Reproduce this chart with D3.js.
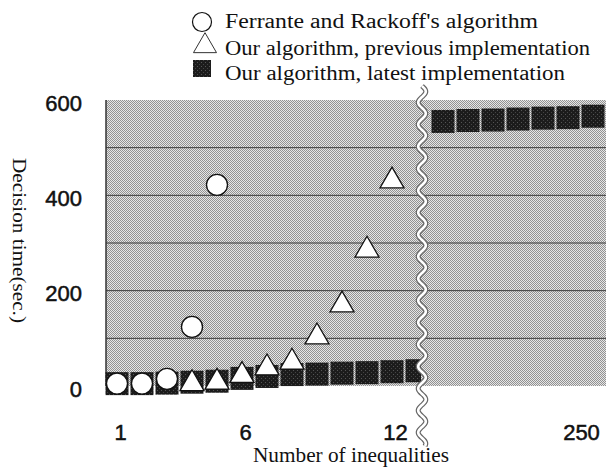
<!DOCTYPE html>
<html>
<head>
<meta charset="utf-8">
<script src="https://cdn.jsdelivr.net/npm/d3@7"></script>
<style>
  body { margin: 0; background: #fff; }
  svg { display: block; }
</style>
</head>
<body>
<div class="canvas"></div>
<script>
// data
const leftN = [1, 2, 3, 4, 5, 6, 7, 8, 9, 10, 11, 12, 13];
const ferrante = [
  { n: 1, t: 5 }, { n: 2, t: 5 }, { n: 3, t: 15 }, { n: 4, t: 124 }, { n: 5, t: 422 }
];
const previous = [
  { n: 4, t: 5 }, { n: 5, t: 8 }, { n: 6, t: 22 }, { n: 7, t: 38 }, { n: 8, t: 50 },
  { n: 9, t: 103 }, { n: 10, t: 170 }, { n: 11, t: 285 }, { n: 12, t: 430 }
];
const latestLeft = [5, 5, 6, 8, 10, 16, 20, 24, 25, 27, 28, 30, 32];
const rightN = [244, 245, 246, 247, 248, 249, 250];
const latestRight = [555, 557, 558, 560, 562, 563, 566];
const yTicks = [0, 200, 400, 600];
const gridVals = [100, 200, 300, 400, 500];
const xTicksLeft = [1, 6, 12];
const xTicksRight = [250];
const legendLabels = [
  "Ferrante and Rackoff's algorithm",
  'Our algorithm, previous implementation',
  'Our algorithm, latest implementation'
];

const width = 611, height = 468;
const plot = { left: 106, right: 606, top: 100, bottom: 386 };
const breakX = 422;
const serif = '"Liberation Serif", "Times New Roman", serif';
const sans = '"Liberation Sans", Arial, sans-serif';

const svg = d3.select('.canvas').append('svg')
  .attr('width', width).attr('height', height);

const defs = svg.append('defs');

//halftone gray for the plot area
const pat = defs.append('pattern').attr('id', 'halftone')
  .attr('width', 2).attr('height', 2).attr('patternUnits', 'userSpaceOnUse');
pat.append('rect').attr('width', 2).attr('height', 2).attr('fill', '#e6e6e6');
pat.append('rect').attr('width', 1).attr('height', 1).attr('fill', '#929292');
pat.append('rect').attr('x', 1).attr('y', 1).attr('width', 1).attr('height', 1).attr('fill', '#929292');

//dark speckled fill for squares
const dpat = defs.append('pattern').attr('id', 'dark')
  .attr('width', 4).attr('height', 4).attr('patternUnits', 'userSpaceOnUse');
dpat.append('rect').attr('width', 4).attr('height', 4).attr('fill', '#1c1c1c');
dpat.append('rect').attr('x', 1).attr('y', 2).attr('width', 1).attr('height', 1).attr('fill', '#555');
dpat.append('rect').attr('x', 3).attr('y', 0).attr('width', 1).attr('height', 1).attr('fill', '#444');

defs.append('clipPath').attr('id', 'leftClip')
  .append('rect').attr('x', 0).attr('y', 0).attr('width', breakX - 1).attr('height', height);

//scales
const y = d3.scaleLinear().domain([0, 600]).range([plot.bottom, plot.top]);
const xL = d3.scaleLinear().domain([1, 12]).range([117, 392]);
const xR = d3.scaleLinear().domain([244, 250]).range([443, 593]);

//background
svg.append('rect')
  .attr('x', plot.left).attr('y', plot.top)
  .attr('width', plot.right - plot.left).attr('height', plot.bottom - plot.top)
  .attr('fill', 'url(#halftone)');

//grid lines
svg.append('g').selectAll('line').data(gridVals).join('line')
  .attr('x1', plot.left).attr('x2', plot.right)
  .attr('y1', (d) => y(d)).attr('y2', (d) => y(d))
  .attr('stroke', '#3a3a3a').attr('stroke-width', 1);

svg.append('line')
  .attr('x1', plot.left).attr('x2', plot.left)
  .attr('y1', plot.top).attr('y2', plot.bottom)
  .attr('stroke', '#333').attr('stroke-width', 1.5);

//axes
const yAxis = d3.axisLeft(y).tickValues(yTicks).tickSize(0).tickPadding(0);
svg.append('g')
  .attr('transform', 'translate(82,3)')
  .call(yAxis)
  .call((g) => g.select('.domain').remove())
  .selectAll('text')
  .attr('font-family', sans)
  .attr('font-size', 22).attr('fill', '#111')
  .attr('stroke', '#111').attr('stroke-width', 0.5);

const xAxisL = d3.axisBottom(xL).tickValues(xTicksLeft).tickFormat(d3.format('d')).tickSize(0).tickPadding(0);
const xAxisR = d3.axisBottom(xR).tickValues(xTicksRight).tickFormat(d3.format('d')).tickSize(0).tickPadding(0);
[xAxisL, xAxisR].forEach((ax, i) => {
  const g = svg.append('g')
    .attr('transform', 'translate(0,424)')
    .call(ax)
    .call((g) => g.select('.domain').remove());
  g.selectAll('text')
    .attr('font-family', sans)
    .attr('font-size', 22).attr('fill', '#111')
    .attr('stroke', '#111').attr('stroke-width', 0.5)
    .attr('dx', i == 0 ? 3 : -12);
});

//markers
const sq = 23;
const marks = svg.append('g').attr('clip-path', 'url(#leftClip)');

marks.selectAll('rect').data(leftN).join('rect')
  .attr('x', (d) => xL(d) - sq / 2)
  .attr('y', (d, i) => y(latestLeft[i]) - sq / 2)
  .attr('width', sq).attr('height', sq)
  .attr('fill', 'url(#dark)');

svg.append('g').selectAll('rect').data(rightN).join('rect')
  .attr('x', (d) => xR(d) - sq / 2)
  .attr('y', (d, i) => y(latestRight[i]) - sq / 2)
  .attr('width', sq).attr('height', sq)
  .attr('fill', 'url(#dark)');

marks.selectAll('circle').data(ferrante).join('circle')
  .attr('cx', (d) => xL(d.n)).attr('cy', (d) => y(d.t))
  .attr('r', 10.5)
  .attr('fill', '#fff').attr('stroke', '#111').attr('stroke-width', 1.3);

const tri = d3.symbol().type(d3.symbolTriangle).size(250);
marks.selectAll('path.tri').data(previous).join('path')
  .attr('class', 'tri')
  .attr('d', tri)
  .attr('transform', (d) => `translate(${xL(d.n)},${y(d.t)})`)
  .attr('fill', '#fff').attr('stroke', '#111').attr('stroke-width', 1.3);

//axis break (wavy double line)
const wave = d3.range(86, 447, 2).map((v) => [breakX + 4 * Math.sin((v - 86) / 22 * 2 * Math.PI), v]);
const waveLine = d3.line().curve(d3.curveBasis);
svg.append('path').attr('d', waveLine(wave))
  .attr('fill', 'none').attr('stroke', '#666').attr('stroke-width', 5);
svg.append('path').attr('d', waveLine(wave))
  .attr('fill', 'none').attr('stroke', '#fff').attr('stroke-width', 2.6);

//axis titles
svg.append('text')
  .attr('x', 253).attr('y', 462)
  .attr('textLength', 196).attr('lengthAdjust', 'spacingAndGlyphs')
  .attr('font-family', serif)
  .attr('font-size', 20).attr('fill', '#111')
  .text('Number of inequalities');

svg.append('text')
  .attr('transform', 'translate(13,158) rotate(90)')
  .attr('textLength', 165).attr('lengthAdjust', 'spacingAndGlyphs')
  .attr('font-family', serif)
  .attr('font-size', 19.5).attr('fill', '#111')
  .text('Decision time(sec.)');

//legend
const legend = svg.append('g').attr('font-family', serif);
const rows = [28, 55, 80];
const rowWidths = [313, 365, 340];
legend.selectAll('text').data(legendLabels).join('text')
  .attr('x', 225).attr('y', (d, i) => rows[i])
  .attr('textLength', (d, i) => rowWidths[i]).attr('lengthAdjust', 'spacingAndGlyphs')
  .attr('font-size', 20).attr('fill', '#111')
  .text((d) => d);

legend.append('circle')
  .attr('cx', 202).attr('cy', rows[0] - 6).attr('r', 9.5)
  .attr('fill', '#fff').attr('stroke', '#111').attr('stroke-width', 1.2);
legend.append('path')
  .attr('d', d3.symbol().type(d3.symbolTriangle).size(230))
  .attr('transform', `translate(205,${rows[1] - 9})`)
  .attr('fill', '#fff').attr('stroke', '#333').attr('stroke-width', 1);
legend.append('rect')
  .attr('x', 193).attr('y', rows[2] - 20).attr('width', 18).attr('height', 17)
  .attr('fill', 'url(#dark)');
</script>
</body>
</html>
